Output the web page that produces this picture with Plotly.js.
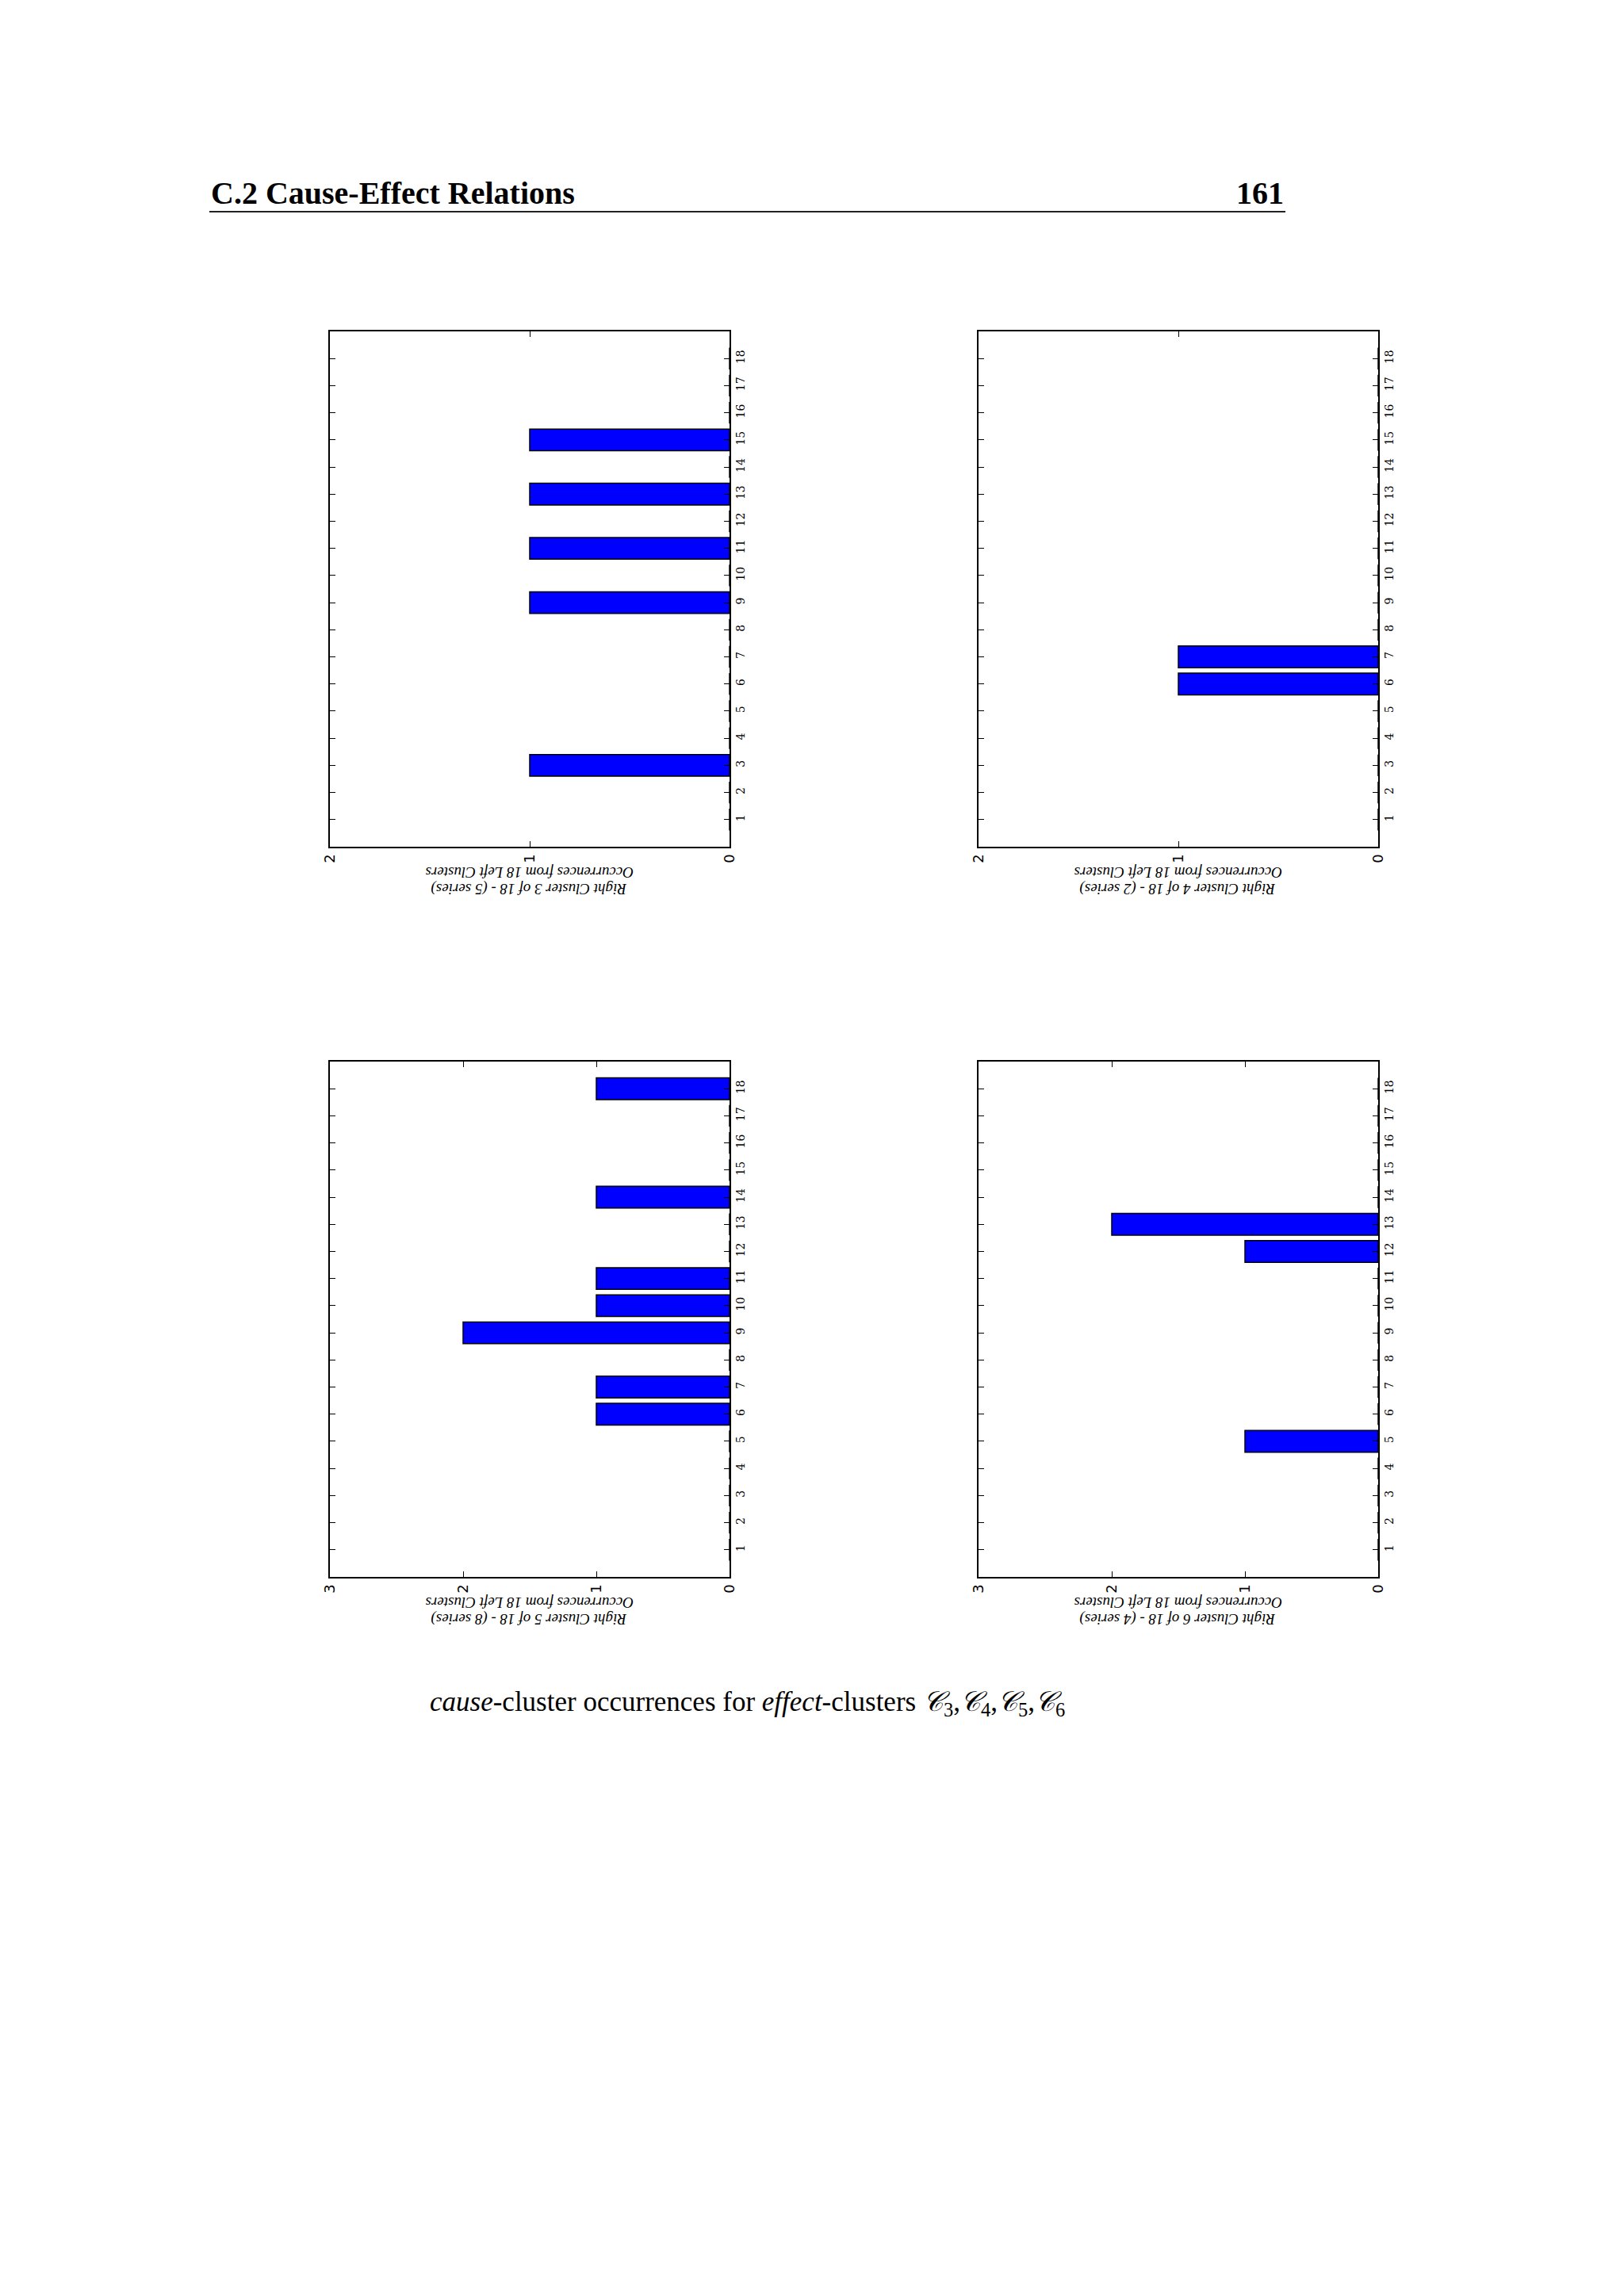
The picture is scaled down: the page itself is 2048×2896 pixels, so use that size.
<!DOCTYPE html>
<html>
<head>
<meta charset="utf-8">
<script src="https://cdn.plot.ly/plotly-3.0.1.min.js"></script>
<style>
  html, body { margin: 0; padding: 0; background: #ffffff; }
  #chart { width: 2048px; height: 2896px; }
</style>
</head>
<body>
<div id="chart"></div>
<script>
// ---------------- data ----------------
const leftClusters = [1, 2, 3, 4, 5, 6, 7, 8, 9, 10, 11, 12, 13, 14, 15, 16, 17, 18];
const rightCluster3 = [0, 0, 1, 0, 0, 0, 0, 0, 1, 0, 1, 0, 1, 0, 1, 0, 0, 0];
const rightCluster4 = [0, 0, 0, 0, 0, 1, 1, 0, 0, 0, 0, 0, 0, 0, 0, 0, 0, 0];
const rightCluster5 = [0, 0, 0, 0, 0, 1, 1, 0, 2, 1, 1, 0, 0, 1, 0, 0, 0, 1];
const rightCluster6 = [0, 0, 0, 0, 1, 0, 0, 0, 0, 0, 0, 1, 2, 0, 0, 0, 0, 0];
const valueTicks34 = [0, 1, 2];
const valueTicks56 = [0, 1, 2, 3];
const panelTitles = [
  "Right Cluster 3 of 18 - (5 series)",
  "Right Cluster 4 of 18 - (2 series)",
  "Right Cluster 5 of 18 - (8 series)",
  "Right Cluster 6 of 18 - (4 series)"
];
const axisTitle = "Occurrences from 18 Left Clusters";
const headerText = "C.2 Cause-Effect Relations";
const pageNumber = "161";
const captionText = "<i>cause</i>-cluster occurrences for <i>effect</i>-clusters " +
  "<i>𝒞</i><sub>3</sub>,<i>𝒞</i><sub>4</sub>,<i>𝒞</i><sub>5</sub>,<i>𝒞</i><sub>6</sub>";

// ---------------- layout helpers ----------------
const W = 2048, H = 2896;
const px = v => v / W;
const py = v => 1 - v / H;

const panels = [
  { vals: rightCluster3, ticks: valueTicks34, max: 2, x0: 416, x1: 920, y0: 418, y1: 1068 },
  { vals: rightCluster4, ticks: valueTicks34, max: 2, x0: 1234, x1: 1738, y0: 418, y1: 1068 },
  { vals: rightCluster5, ticks: valueTicks56, max: 3, x0: 416, x1: 920, y0: 1339, y1: 1989 },
  { vals: rightCluster6, ticks: valueTicks56, max: 3, x0: 1234, x1: 1738, y0: 1339, y1: 1989 }
];

const traces = [];
const layout = {
  width: W, height: H,
  margin: { l: 0, r: 0, t: 0, b: 0, pad: 0 },
  paper_bgcolor: "#ffffff",
  plot_bgcolor: "#ffffff",
  showlegend: false,
  annotations: [],
  shapes: []
};

panels.forEach((p, i) => {
  const n = i + 1;
  const xa = n === 1 ? "x" : "x" + n;
  const ya = n === 1 ? "y" : "y" + n;
  const xk = n === 1 ? "xaxis" : "xaxis" + n;
  const yk = n === 1 ? "yaxis" : "yaxis" + n;
  traces.push({
    type: "bar",
    orientation: "h",
    x: p.vals,
    y: leftClusters,
    xaxis: xa, yaxis: ya,
    width: 0.8,
    marker: { color: "#0000ff", line: { color: "#000000", width: 1.5 } },
    hoverinfo: "x+y"
  });
  layout[xk] = {
    domain: [px(p.x0), px(p.x1)],
    anchor: ya,
    range: [p.max, 0],
    tickmode: "array",
    tickvals: p.ticks,
    ticktext: p.ticks.map(String),
    ticks: "inside",
    ticklen: 7,
    tickwidth: 1,
    tickcolor: "#000000",
    tickangle: -90,
    showline: true,
    linecolor: "#000000",
    linewidth: 2,
    mirror: "ticks",
    showgrid: false,
    zeroline: false,
    tickfont: { family: "DejaVu Sans", size: 18, color: "#000000" },
    fixedrange: true
  };
  layout[yk] = {
    domain: [py(p.y1), py(p.y0)],
    anchor: xa,
    side: "right",
    range: [0, 19],
    tickmode: "array",
    tickvals: leftClusters,
    ticktext: leftClusters.map(String),
    ticks: "inside",
    ticklen: 7,
    tickwidth: 1,
    tickcolor: "#000000",
    tickangle: -90,
    showline: true,
    linecolor: "#000000",
    linewidth: 2,
    mirror: "ticks",
    showgrid: false,
    zeroline: false,
    tickfont: { family: "DejaVu Serif", size: 14, color: "#000000" },
    fixedrange: true
  };
  // upside-down axis title (two lines, drawn as two annotations)
  const cx = px((p.x0 + p.x1) / 2);
  layout.annotations.push({
    xref: "paper", yref: "paper",
    x: cx, y: py(p.y1 + 33),
    xanchor: "center", yanchor: "middle",
    showarrow: false,
    textangle: 180,
    text: "<i>" + axisTitle + "</i>",
    font: { family: "Liberation Serif", size: 19, color: "#000000" }
  });
  layout.annotations.push({
    xref: "paper", yref: "paper",
    x: cx, y: py(p.y1 + 53),
    xanchor: "center", yanchor: "middle",
    showarrow: false,
    textangle: 180,
    text: "<i>" + panelTitles[i] + "</i>",
    font: { family: "Liberation Serif", size: 19, color: "#000000" }
  });
});

// page header
layout.annotations.push({
  xref: "paper", yref: "paper",
  x: px(264), y: py(244),
  xanchor: "left", yanchor: "middle",
  showarrow: false,
  text: "<b>" + headerText + "</b>",
  font: { family: "Liberation Serif", size: 40, color: "#000000" }
});
layout.annotations.push({
  xref: "paper", yref: "paper",
  x: px(1621), y: py(244),
  xanchor: "right", yanchor: "middle",
  showarrow: false,
  text: "<b>" + pageNumber + "</b>",
  font: { family: "Liberation Serif", size: 40, color: "#000000" }
});
layout.shapes.push({
  type: "line", xref: "paper", yref: "paper",
  x0: px(264), x1: px(1621), y0: py(267), y1: py(267),
  line: { color: "#222222", width: 2 }
});

// caption
layout.annotations.push({
  xref: "paper", yref: "paper",
  x: px(942), y: py(2148),
  xanchor: "center", yanchor: "middle",
  showarrow: false,
  text: captionText,
  font: { family: "Liberation Serif", size: 35, color: "#000000" }
});

Plotly.newPlot("chart", traces, layout, { staticPlot: true, displayModeBar: false });
</script>
</body>
</html>
